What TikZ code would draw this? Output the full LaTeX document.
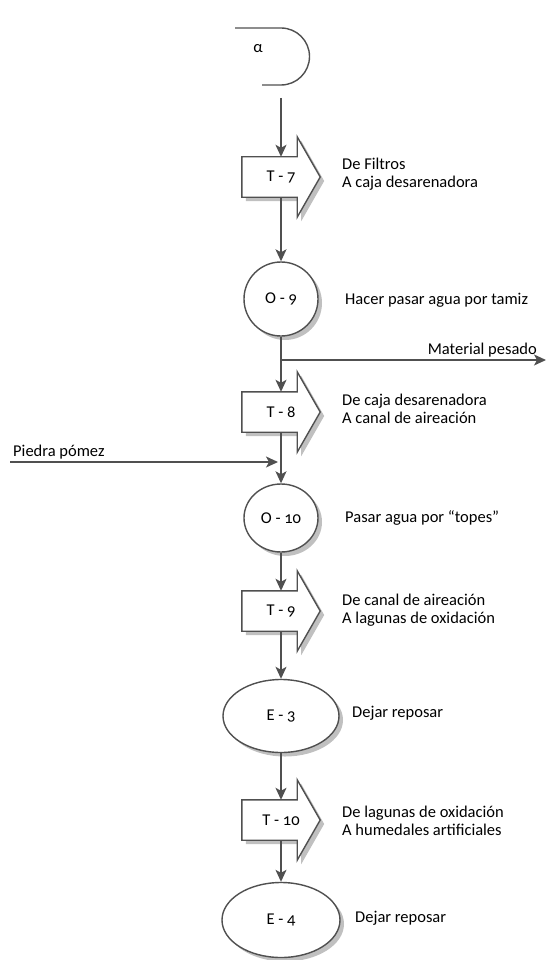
\documentclass[tikz,border=0pt]{standalone}
\usepackage{fontspec}
\setmainfont{Carlito}[Numbers=OldStyle]
\usetikzlibrary{arrows.meta, shapes.geometric, shadows, backgrounds}
\definecolor{linegray}{RGB}{80,80,80}
\definecolor{shadowgray}{RGB}{192,192,192}
\tikzset{
  flow/.style={draw=linegray, line width=1.4pt, -{Stealth[length=12pt, width=11pt, inset=3pt]}},
  shadowed/.style={drop shadow={shadow xshift=4pt, shadow yshift=-4pt, fill=shadowgray, opacity=1}},
  outline/.style={draw=linegray, line width=1.4pt, fill=white, line join=miter, shadowed},
  transport/.style={rectangle, minimum width=78pt, minimum height=40pt, inner sep=0pt},
  operation/.style={ellipse, outline, inner sep=0pt},
  note/.style={anchor=west, align=left, inner xsep=0pt}
}

\begin{document}
\begin{tikzpicture}[x=1pt, y=-1pt, font=\fontsize{16.5pt}{18.5pt}\selectfont]
    \useasboundingbox (0,0) rectangle (546,960);
    % connector at the top
    \draw[linegray, line width=1.4pt] (235,28) -- (281,28) arc[start angle=-90, end angle=90, radius=28.5] -- (262,85);
    \node (alpha) at (258,49) {α};
    \coordinate (start) at (281,98);
    % steps, top to bottom
    \node[transport] (t7) at (281,177) {T - 7};
    \node[operation, minimum width=74pt, minimum height=74pt] (o9) at (281,299) {O - 9};
    \node[transport] (t8) at (281,412) {T - 8};
    \node[operation, minimum width=74pt, minimum height=68pt] (o10) at (281,518) {O - 10};
    \node[transport] (t9) at (281,611) {T - 9};
    \node[operation, minimum width=116pt, minimum height=73pt] (e3) at (281,716) {E - 3};
    \node[transport] (t10) at (281,820) {T - 10};
    \node[operation, minimum width=118pt, minimum height=75pt] (e4) at (281,920) {E - 4};
    % block arrows behind the transport texts
    \begin{scope}[on background layer]
      \foreach \t in {t7,t8,t9,t10} {
        \draw[outline] (\t.north west) -- ([xshift=-23pt]\t.north east) -- ([xshift=-23pt, yshift=20pt]\t.north east)
          -- (\t.east) -- ([xshift=-23pt, yshift=-20pt]\t.south east) -- ([xshift=-23pt]\t.south east)
          -- (\t.south west) -- cycle;
      }
    \end{scope}
    % side flows
    \coordinate (split) at (281,360);
    \coordinate (pesado) at (546,360);
    \coordinate (pomez) at (10,462);
    \coordinate (pomezend) at (278,462);
    \draw[flow] (start) -- (t7);
    \draw[flow] (t7) -- (o9);
    \draw[flow] (o9) -- (t8);
    \draw[flow] (split) -- (pesado);
    \draw[flow] (t8) -- (o10);
    \draw[flow] (pomez) -- (pomezend);
    \draw[flow] (o10) -- (t9);
    \draw[flow] (t9) -- (e3);
    \draw[flow] (e3) -- (t10);
    \draw[flow] (t10) -- (e4);
    % texts beside the steps
    \node[note] (t7note) at (342,174) {De Filtros\\A caja desarenadora};
    \node[note] (o9note) at (345,300) {Hacer pasar agua por tamiz};
    \node[anchor=east, inner xsep=0pt] (pesadonote) at (537,350) {Material pesado};
    \node[note] (t8note) at (342,409) {De caja desarenadora\\A canal de aireación};
    \node[note] (pomeznote) at (13,452) {Piedra pómez};
    \node[note] (o10note) at (345,518) {Pasar agua por “topes”};
    \node[note] (t9note) at (342,610) {De canal de aireación\\A lagunas de oxidación};
    \node[note] (e3note) at (352,713) {Dejar reposar};
    \node[note] (t10note) at (342,821) {De lagunas de oxidación\\A humedales artificiales};
    \node[note] (e4note) at (355,918) {Dejar reposar};
\end{tikzpicture}
\end{document}
